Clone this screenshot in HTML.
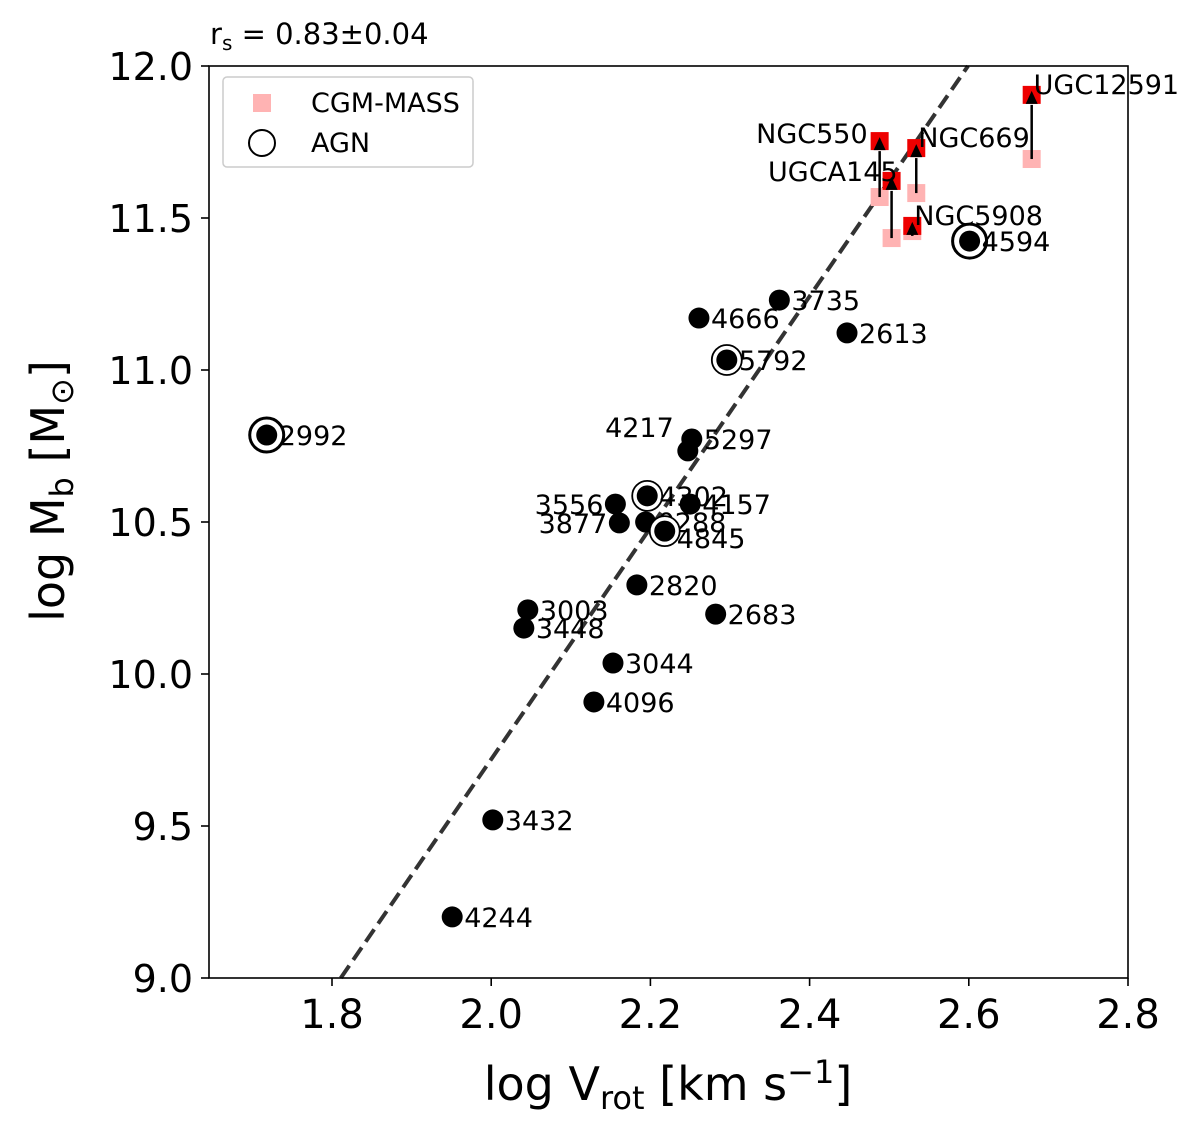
<!DOCTYPE html>
<html><head><meta charset="utf-8">
<style>
html,body{margin:0;padding:0;background:#fff;}
svg text{font-family:"DejaVu Sans","Liberation Sans",sans-serif;}
</style></head>
<body>
<svg id="chart" width="1200" height="1134" viewBox="0 0 1200 1134" xmlns="http://www.w3.org/2000/svg">
  <g id="plot"></g>
</svg>
<script>
// ---- data ----
const galNames = ["2992","4594","3735","4666","2613","5792","5297","4217","4302","3556","4157","3877","0288","4845","2820","2683","3003","3448","3044","4096","3432","4244"];
const galLogV = [1.718,2.601,2.362,2.261,2.447,2.296,2.252,2.247,2.196,2.156,2.250,2.161,2.194,2.218,2.183,2.282,2.046,2.041,2.153,2.129,2.002,1.951];
const galLogM = [10.786,11.424,11.230,11.171,11.122,11.033,10.773,10.734,10.586,10.559,10.559,10.497,10.500,10.470,10.293,10.197,10.211,10.151,10.036,9.908,9.520,9.201];
const galAGN = [2,2,0,0,0,1,0,0,1,0,0,0,0,1,0,0,0,0,0,0,0,0];
const cgmNames = ["UGC12591","NGC550","UGCA145","NGC669","NGC5908"];
const cgmLogV = [2.679,2.488,2.503,2.534,2.529];
const cgmLogMlow = [11.694,11.569,11.434,11.582,11.457];
const cgmLogMhigh = [11.905,11.753,11.622,11.730,11.474];
const fitLine = [[1.811,9.0],[2.599,12.0]];
const xTicks = [1.8,2.0,2.2,2.4,2.6,2.8];
const yTicks = [9.0,9.5,10.0,10.5,11.0,11.5,12.0];

// ---- axes ----
const L=209,R=1128,T=66,B=978;
const X = v => 332 + (v-1.8)*796;
const Y = v => 66 + (12-v)*304;
const NS="http://www.w3.org/2000/svg";
const svg=document.getElementById('chart');
const plot=document.getElementById('plot');
function mk(tag,attrs,parent){const e=document.createElementNS(NS,tag);for(const k in attrs)e.setAttribute(k,attrs[k]);(parent||svg).appendChild(e);return e;}

const fl=mk('line',{x1:X(fitLine[0][0]),y1:Y(fitLine[0][1]),x2:X(fitLine[1][0]),y2:Y(fitLine[1][1]),stroke:'#333','stroke-width':4,'stroke-dasharray':'15,7'},plot);



galNames.forEach((n,i)=>{
  const cx=X(galLogV[i]),cy=Y(galLogM[i]);
  const g=mk('g',{},plot);
  
  
  if(galAGN[i]){
    const r=galAGN[i]===2?17:15;
    mk('circle',{cx,cy,r,fill:'#fff',stroke:'#000','stroke-width':galAGN[i]===2?3:1.8},g);
  }
  mk('circle',{cx,cy,r:10.5,fill:'#000'},g);
  let tx=cx+12,ty=cy+10,anchor='start';
  if(n==='4217'){tx=cx-14;ty=cy-14;anchor='end';}
  if(n==='3556'||n==='3877'){tx=cx-12;anchor='end';}
  if(n==='4845'){ty=cy+17;}
  const t=mk('text',{x:tx,y:ty,'font-size':27,'text-anchor':anchor,fill:'#000'},g);
  t.textContent=n;
});

cgmNames.forEach((n,i)=>{
  const cx=X(cgmLogV[i]),yl=Y(cgmLogMlow[i]),yh=Y(cgmLogMhigh[i]);
  const g=mk('g',{},plot);
  
  
  mk('rect',{x:cx-9,y:yl-9,width:18,height:18,fill:'#ffb3b3'},g);
  mk('rect',{x:cx-9,y:yh-9,width:18,height:18,fill:'#ee0000'},g);
  mk('line',{x1:cx,y1:yl,x2:cx,y2:yh+10,stroke:'#000','stroke-width':2.5},g);
  mk('polygon',{points:`${cx},${yh-4} ${cx-6},${yh+9} ${cx+6},${yh+9}`,fill:'#000'},g);
  let tx=cx+2,ty=yh-1,anchor='start';
  if(n==='NGC550'){tx=cx-12;ty=yh+2;anchor='end';}
  if(n==='UGCA145'){tx=cx+6;ty=yh-0;anchor='end';}
  const t=mk('text',{x:tx,y:ty,'font-size':27,'text-anchor':anchor,fill:'#000'},g);
  t.textContent=n;
});

const fr=mk('rect',{x:L,y:T,width:R-L,height:B-T,fill:'none',stroke:'#000','stroke-width':1.6});



xTicks.forEach(v=>{
  const x=X(v);
  mk('line',{x1:x,y1:B,x2:x,y2:B+8,stroke:'#000','stroke-width':1.6});
  const t=mk('text',{x:x,y:B+50,'font-size':40,'text-anchor':'middle'});
  
  
  t.textContent=v.toFixed(1);
});
yTicks.forEach(v=>{
  const y=Y(v);
  mk('line',{x1:L-8,y1:y,x2:L,y2:y,stroke:'#000','stroke-width':1.6});
  const t=mk('text',{x:L-16,y:y+14,'font-size':38,'text-anchor':'end'});
  
  
  t.textContent=v.toFixed(1);
});
</script>
<svg style="position:absolute;left:0;top:0" width="1200" height="1134">
  <text x="668" y="1100" font-size="46" text-anchor="middle" font-family="DejaVu Sans, Liberation Sans, sans-serif">log V<tspan font-size="32" dy="9">rot</tspan><tspan dy="-9"> [km s</tspan><tspan font-size="32" dy="-17">−1</tspan><tspan dy="17">]</tspan></text>
  <text transform="translate(64,491) rotate(-90)" font-size="46" text-anchor="middle" font-family="DejaVu Sans, Liberation Sans, sans-serif">log M<tspan font-size="32" dy="9">b</tspan><tspan dy="-9"> [M</tspan><tspan font-size="32" dy="9">⊙</tspan><tspan dy="-9">]</tspan></text>
  <text x="210" y="44" font-size="29" font-family="DejaVu Sans, Liberation Sans, sans-serif">r<tspan font-size="20" dy="6">s</tspan><tspan dy="-6"> = 0.83±0.04</tspan></text>
  <g>
    <rect x="223" y="77" width="250" height="90" rx="4" fill="#fff" stroke="#ccc" stroke-width="1.5"/>
    <rect x="253" y="94" width="18" height="18" fill="#ffb3b3"/>
    <text x="311" y="112" font-size="27" font-family="DejaVu Sans, Liberation Sans, sans-serif">CGM-MASS</text>
    <circle cx="262" cy="143" r="13" fill="none" stroke="#000" stroke-width="2"/>
    <text x="311" y="152" font-size="27" font-family="DejaVu Sans, Liberation Sans, sans-serif">AGN</text>
  </g>
</svg>
</body></html>
